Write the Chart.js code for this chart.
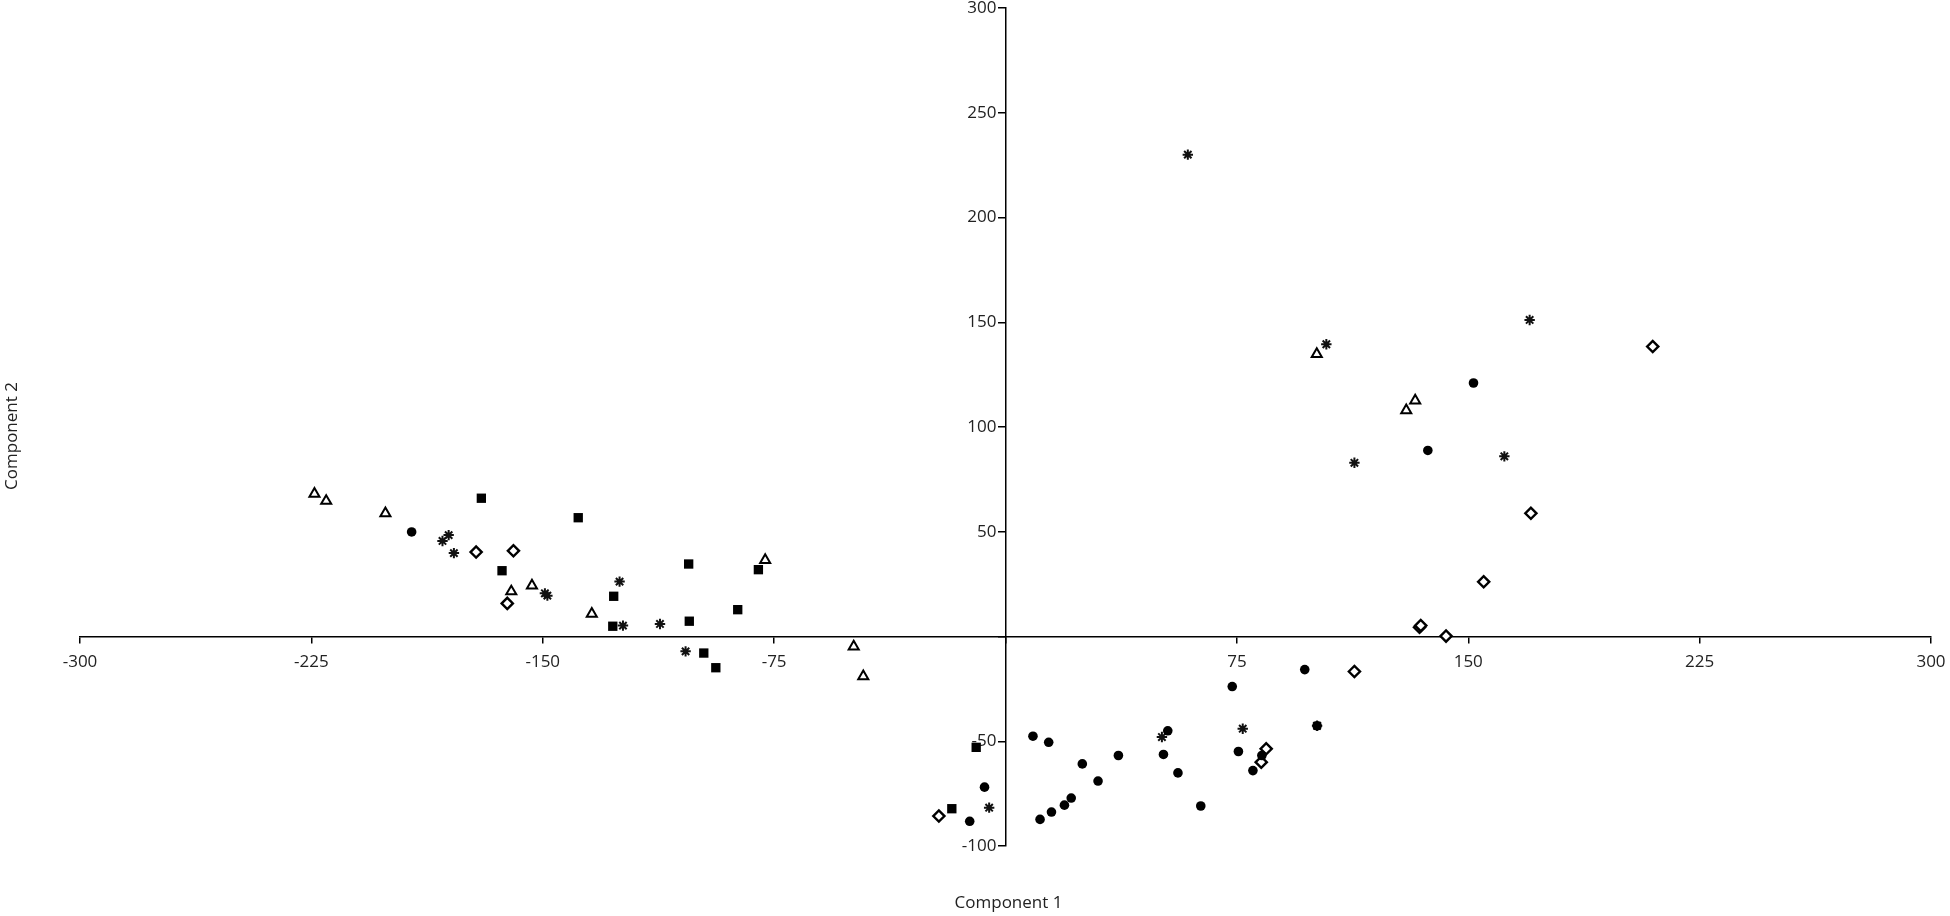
<!DOCTYPE html>
<html>
<head>
<meta charset="utf-8">
<title>Component plot</title>
<script src="https://cdn.jsdelivr.net/npm/chart.js@4.4.1/dist/chart.umd.min.js"></script>
<style>
    html, body { margin: 0; padding: 0; background: #fff; }
    #wrap { position: relative; width: 1950px; height: 916px; }
</style>
</head>
<body>
<div id="wrap"><canvas id="scoreChart"></canvas></div>
<script>
// scores, [component 1, component 2]
const circlePts = [
    [-192.5, 49.9], [151.7, 121.0], [136.9, 88.8], [-6.8, -71.9], [-11.6, -88.2],
    [8.9, -47.6], [14.0, -50.5], [11.2, -87.3], [14.9, -83.8], [19.1, -80.5],
    [21.3, -77.1], [24.9, -60.8], [30.0, -69.0], [36.6, -56.8], [52.6, -45.0],
    [51.2, -56.3], [55.9, -65.1], [63.3, -80.9], [73.5, -23.9], [75.5, -54.9],
    [83.1, -56.8], [80.2, -64.0], [97.0, -15.8], [101.0, -42.6]
];
const squarePts = [
    [-169.9, 66.0], [-138.5, 56.7], [-163.2, 31.4], [-127.0, 19.2], [-127.3, 4.9],
    [-102.7, 34.6], [-102.5, 7.3], [-86.8, 12.8], [-80.1, 31.9], [-97.8, -7.9],
    [-93.9, -14.9], [-9.5, -52.9], [-17.4, -82.2]
];
const trianglePts = [
    [-224.0, 68.1], [-220.2, 64.7], [-201.0, 58.8], [-160.2, 21.5], [-153.5, 24.3],
    [-134.1, 10.8], [-77.9, 36.5], [-49.2, -4.8], [-46.1, -19.0], [100.9, 134.8],
    [132.8, 112.6], [129.9, 108.0]
];
const diamondPts = [
    [-171.6, 40.3], [-159.5, 40.9], [-161.5, 15.8], [-21.6, -85.7], [84.5, -53.6],
    [82.9, -60.0], [113.1, -16.7], [134.2, 4.4], [134.6, 5.2], [142.8, 0.2],
    [155.0, 26.1], [170.3, 58.8], [209.8, 138.4]
];
const starPts = [
    [-180.5, 48.4], [-182.5, 45.6], [-178.8, 39.8], [-148.5, 19.5], [-149.3, 20.6],
    [-125.1, 26.2], [-124.0, 5.2], [-112.0, 6.0], [-103.7, -7.1], [-5.3, -81.7],
    [50.7, -48.0], [76.9, -44.0], [101.0, -42.6], [59.1, 230.0], [104.0, 139.5],
    [169.9, 151.1], [113.1, 82.9], [161.7, 86.0]
];

const xTicks = [-300, -225, -150, -75, 0, 75, 150, 225, 300];
const yTicks = [-100, -50, 0, 50, 100, 150, 200, 250, 300];
const xTitle = 'Component 1';
const yTitle = 'Component 2';

function toXY(list) {
    return list.map(p => ({ x: p[0], y: p[1] }));
}

document.addEventListener('DOMContentLoaded', function () {
    const ctx = document.getElementById('scoreChart').getContext('2d');
    const fontFamily = '"Open Sans", "Noto Sans", sans-serif';
    const textColor = '#222';

    // tick labels for the axes that cross at zero, 0 itself is left out
    const axisLabels = {
        id: 'axisLabels',
        beforeDatasetsDraw(chart) {
            const c = chart.ctx;
            const xScale = chart.scales.x;
            const yScale = chart.scales.y;
            const axisX = xScale.getPixelForValue(0);
            const axisY = yScale.getPixelForValue(0);
            c.save();
            c.font = '17px ' + fontFamily;
            c.fillStyle = textColor;
            c.textBaseline = 'middle';
            c.textAlign = 'right';
            yTicks.forEach(v => {
                if (v !== 0) c.fillText(String(v), axisX - 9, yScale.getPixelForValue(v));
            });
            c.textAlign = 'center';
            xTicks.forEach(v => {
                if (v !== 0) c.fillText(String(v), xScale.getPixelForValue(v), axisY + 26);
            });
            c.restore();
        }
    };

    // axis titles sit at the edges of the picture, not next to the centred axes
    const edgeTitles = {
        id: 'edgeTitles',
        afterDraw(chart) {
            const c = chart.ctx;
            const area = chart.chartArea;
            c.save();
            c.font = '17px ' + fontFamily;
            c.fillStyle = textColor;
            c.textAlign = 'center';
            c.textBaseline = 'middle';
            c.fillText(xTitle, chart.scales.x.getPixelForValue(0) + 3, area.bottom + 57);
            c.translate(12, (area.top + area.bottom) / 2 + 9);
            c.rotate(-Math.PI / 2);
            c.fillText(yTitle, 0, 0);
            c.restore();
        }
    };

    const data = {
        datasets: [
            {
                label: 'circle',
                data: toXY(circlePts),
                pointStyle: 'circle',
                pointRadius: 4.8,
                backgroundColor: '#000',
                borderColor: '#000',
                borderWidth: 0
            },
            {
                label: 'square',
                data: toXY(squarePts),
                pointStyle: 'rect',
                pointRadius: 6.6,
                backgroundColor: '#000',
                borderColor: '#000',
                borderWidth: 0
            },
            {
                label: 'triangle',
                data: toXY(trianglePts),
                pointStyle: 'triangle',
                pointRadius: 5.8,
                backgroundColor: '#fff',
                borderColor: '#000',
                borderWidth: 2
            },
            {
                label: 'diamond',
                data: toXY(diamondPts),
                pointStyle: 'rectRot',
                pointRadius: 5.6,
                backgroundColor: '#fff',
                borderColor: '#000',
                borderWidth: 2.4
            },
            {
                label: 'asterisk',
                data: toXY(starPts),
                pointStyle: 'star',
                pointRadius: 5.2,
                backgroundColor: '#111',
                borderColor: '#111',
                borderWidth: 2
            }
        ]
    };

    const config = {
        type: 'scatter',
        data: data,
        options: {
            responsive: true,
            maintainAspectRatio: false,
            animation: false,
            layout: {
                padding: { left: 80, right: 19, top: 6, bottom: 70 }
            },
            plugins: {
                legend: { display: false },
                tooltip: { enabled: false }
            },
            scales: {
                x: {
                    type: 'linear',
                    position: { y: 0 },
                    min: xTicks[0],
                    max: xTicks[xTicks.length - 1],
                    afterBuildTicks: axis => { axis.ticks = xTicks.map(v => ({ value: v })); },
                    border: { display: true, color: '#000', width: 1.5 },
                    grid: { display: true, drawOnChartArea: false, drawTicks: true, tickLength: 6, color: '#000', lineWidth: 1.5 },
                    ticks: { display: false },
                    title: { display: false }
                },
                y: {
                    type: 'linear',
                    position: { x: 0 },
                    min: yTicks[0],
                    max: yTicks[yTicks.length - 1],
                    afterBuildTicks: axis => { axis.ticks = yTicks.map(v => ({ value: v })); },
                    border: { display: true, color: '#000', width: 1.5 },
                    grid: { display: true, drawOnChartArea: false, drawTicks: true, tickLength: 7, color: '#000', lineWidth: 1.5 },
                    ticks: { display: false },
                    title: { display: false }
                }
            }
        },
        plugins: [axisLabels, edgeTitles]
    };

    new Chart(ctx, config);
});
</script>
</body>
</html>
